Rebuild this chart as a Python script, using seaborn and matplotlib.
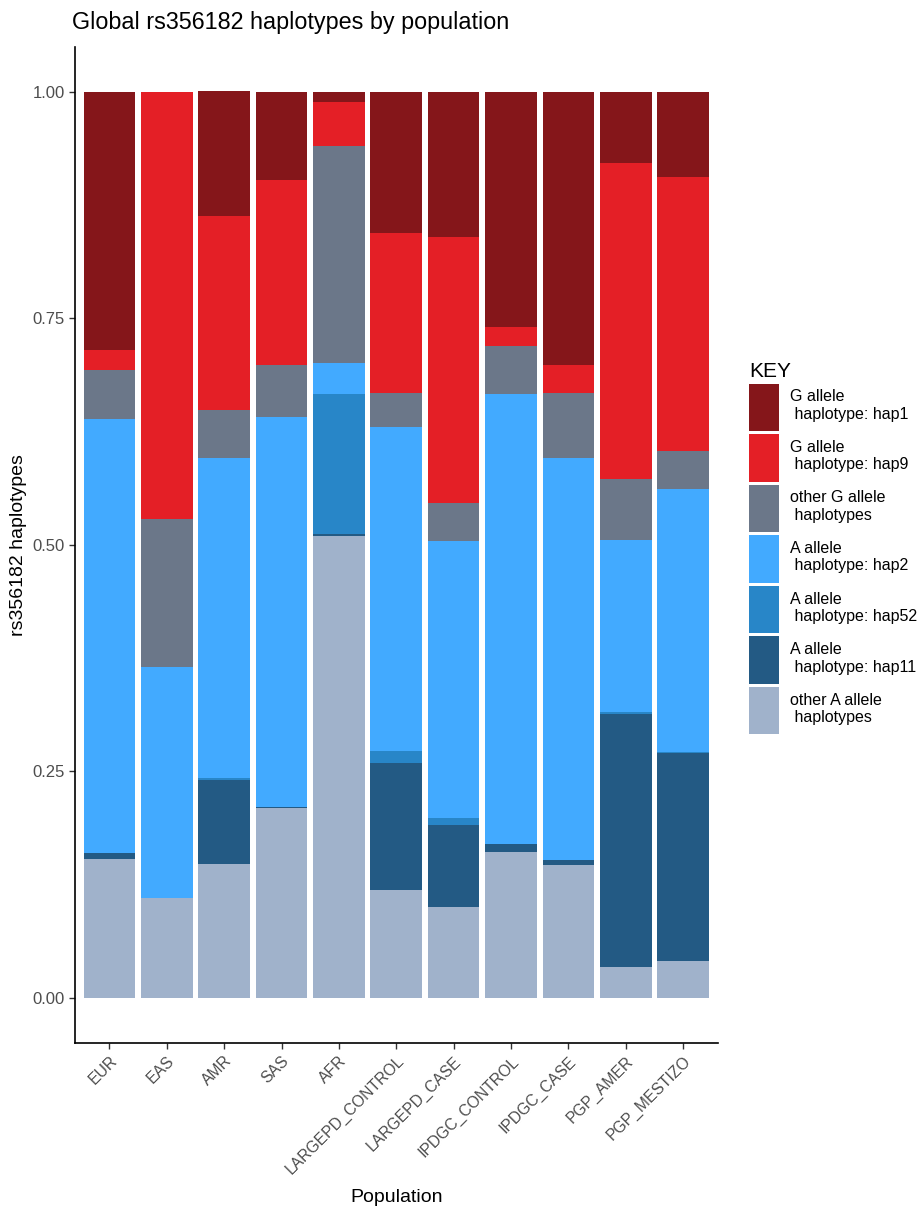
import pandas as pd
import seaborn as sns
import matplotlib.pyplot as plt

# Populations (x axis order)
populations = ['EUR', 'EAS', 'AMR', 'SAS', 'AFR', 'LARGEPD_CONTROL', 'LARGEPD_CASE',
               'IPDGC_CONTROL', 'IPDGC_CASE', 'PGP_AMER', 'PGP_MESTIZO']

# Haplotype fractions per population
g_hap1 =   [0.285, 0.000, 0.138, 0.097, 0.011, 0.156, 0.160, 0.259, 0.302, 0.078, 0.094]
g_hap9 =   [0.022, 0.471, 0.214, 0.205, 0.049, 0.176, 0.294, 0.022, 0.030, 0.349, 0.302]
g_other =  [0.054, 0.164, 0.053, 0.057, 0.239, 0.038, 0.042, 0.052, 0.072, 0.068, 0.042]
a_hap2 =   [0.479, 0.255, 0.353, 0.430, 0.034, 0.358, 0.306, 0.497, 0.444, 0.190, 0.291]
a_hap52 =  [0.000, 0.000, 0.003, 0.000, 0.155, 0.013, 0.007, 0.000, 0.000, 0.002, 0.001]
a_hap11 =  [0.007, 0.000, 0.092, 0.002, 0.002, 0.140, 0.091, 0.009, 0.006, 0.279, 0.229]
a_other =  [0.153, 0.110, 0.148, 0.209, 0.510, 0.119, 0.100, 0.161, 0.146, 0.034, 0.041]

# legend labels (top of stack first)
hap_labels = ['G allele\n haplotype: hap1', 'G allele\n haplotype: hap9',
              'other G allele\n haplotypes', 'A allele\n haplotype: hap2',
              'A allele\n haplotype: hap52', 'A allele\n haplotype: hap11',
              'other A allele\n haplotypes']
hap_colors = ['#85161a', '#e41f26', '#6b7789', '#42aaff', '#2886c8', '#235a84', '#a0b2cb']

series = [g_hap1, g_hap9, g_other, a_hap2, a_hap52, a_hap11, a_other]
rows = []
for lab, vals in zip(hap_labels, series):
    for pop, v in zip(populations, vals):
        rows.append({'Population': pop, 'haplotype': lab, 'frac': v})
df = pd.DataFrame(rows)

sns.set_style('ticks')
plt.rcParams['font.family'] = ['Liberation Sans', 'DejaVu Sans']
plt.rcParams['text.color'] = 'black'
plt.rcParams['axes.labelcolor'] = 'black'

fig = plt.figure(figsize=(9.2, 12.06), dpi=100)
ax = fig.add_axes([0.0815, 0.1352, 0.780 - 0.0815, 0.9613 - 0.1352])

# seaborn stacks the first hue level on top
sns.histplot(data=df, x='Population', weights='frac', hue='haplotype',
             hue_order=hap_labels, palette=hap_colors, multiple='stack',
             discrete=True, shrink=0.9, linewidth=0, alpha=1, ax=ax)

ax.set_xlim(-0.6, len(populations) - 0.4)
ax.set_ylim(-0.05, 1.05)
ax.set_yticks([0, 0.25, 0.5, 0.75, 1.0])
ax.set_yticklabels(['0.00', '0.25', '0.50', '0.75', '1.00'])
ax.set_xticks(range(len(populations)))
ax.set_xticklabels(populations, rotation=45, ha='right', rotation_mode='anchor')
ax.tick_params(axis='both', labelcolor='#4d4d4d', color='#333333', length=4, width=1)
ax.tick_params(axis='x', labelsize=11.3)
ax.tick_params(axis='y', labelsize=12)
for s in ['left', 'bottom']:
    ax.spines[s].set_linewidth(1.2)
    ax.spines[s].set_color('black')
sns.despine(ax=ax)

ax.set_ylabel('rs356182 haplotypes', fontsize=14)
ax.set_xlabel('Population', fontsize=14, labelpad=8)

fig.text(72 / 920, 1 - 22 / 1206, 'Global rs356182 haplotypes by population',
         fontsize=16.8, ha='left', va='center')

sns.move_legend(ax, 'center left', bbox_to_anchor=(735 / 920, 1 - 548 / 1206),
                bbox_transform=fig.transFigure, title='KEY', frameon=False,
                fontsize=11.5, title_fontsize=15, handlelength=1.88, handleheight=4.2,
                labelspacing=0.19, handletextpad=0.68, alignment='left')

fig.savefig('out.png', dpi=100, facecolor='white')
